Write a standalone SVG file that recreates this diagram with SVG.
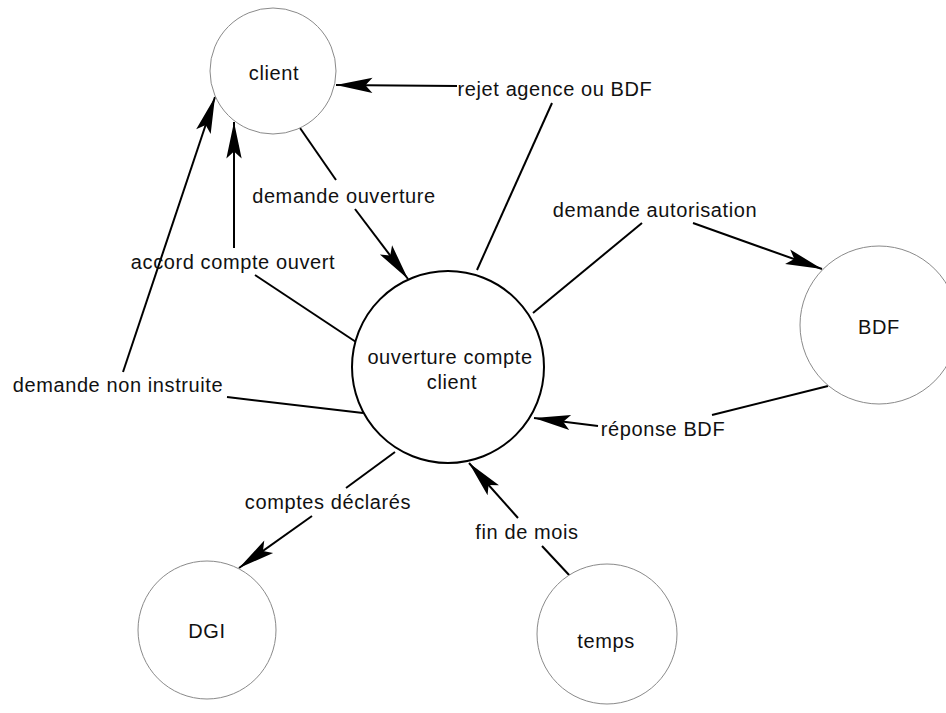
<svg xmlns="http://www.w3.org/2000/svg" width="946" height="713" viewBox="0 0 946 713">
  <style>
    .ext { fill: #ffffff; stroke: #8a8a8a; stroke-width: 1; }
    .proc { fill: #ffffff; stroke: #000000; stroke-width: 2; }
    .lbl { font-family: "Liberation Sans", Arial, sans-serif; font-size: 20px; letter-spacing: 0.6px; fill: #111111; text-anchor: middle; }
    .flow { fill: none; stroke: #000000; stroke-width: 2; }
  </style>
  <defs>
    <marker id="arrow" markerUnits="userSpaceOnUse" markerWidth="40" markerHeight="20" viewBox="-32 -8 34 16" refX="0" refY="0" orient="auto">
      <path d="M0,0 L-31,-6.5 L-25,0 L-31,6.5 Z" fill="#000000"/>
    </marker>
  </defs>
  <rect width="946" height="713" fill="#ffffff"/>

  <!-- data flows -->
  <g id="connectors">
    <!-- rejet agence ou BDF -->
    <path class="flow" d="M477,270 L552,103"/>
    <path class="flow" d="M457,86 L336,85" marker-end="url(#arrow)"/>
    <!-- demande ouverture -->
    <path class="flow" d="M300,128 L336,180"/>
    <path class="flow" d="M355,209 L408,279" marker-end="url(#arrow)"/>
    <!-- accord compte ouvert -->
    <path class="flow" d="M356,342 L255,275"/>
    <path class="flow" d="M234,248 L234,122" marker-end="url(#arrow)"/>
    <!-- demande non instruite -->
    <path class="flow" d="M363,413 L227,397"/>
    <path class="flow" d="M123,372 L215,97" marker-end="url(#arrow)"/>
    <!-- demande autorisation -->
    <path class="flow" d="M533,313 L642,223"/>
    <path class="flow" d="M693,223 L822,269" marker-end="url(#arrow)"/>
    <!-- réponse BDF -->
    <path class="flow" d="M828,386 L712,415"/>
    <path class="flow" d="M598,426 L534,418" marker-end="url(#arrow)"/>
    <!-- comptes déclarés -->
    <path class="flow" d="M395,452 L346,488"/>
    <path class="flow" d="M312,516 L239,568" marker-end="url(#arrow)"/>
    <!-- fin de mois -->
    <path class="flow" d="M570,576 L542,546"/>
    <path class="flow" d="M518,518 L469,463" marker-end="url(#arrow)"/>
  </g>

  <g id="flow-labels">
    <text class="lbl" x="555" y="96">rejet agence ou BDF</text>
    <text class="lbl" x="344" y="203">demande ouverture</text>
    <text class="lbl" x="233" y="269">accord compte ouvert</text>
    <text class="lbl" x="118" y="392">demande non instruite</text>
    <text class="lbl" x="655" y="217">demande autorisation</text>
    <text class="lbl" x="663" y="436">réponse BDF</text>
    <text class="lbl" x="328" y="509">comptes déclarés</text>
    <text class="lbl" x="527" y="539">fin de mois</text>
  </g>

  <g id="client">
    <circle class="ext" cx="273" cy="71" r="63"/>
    <text class="lbl" x="274" y="80">client</text>
  </g>

  <g id="ouverture-compte-client">
    <circle class="proc" cx="448" cy="367" r="96"/>
    <text class="lbl" x="450" y="364">ouverture compte</text>
    <text class="lbl" x="452" y="389">client</text>
  </g>

  <g id="bdf">
    <circle class="ext" cx="879" cy="325" r="79"/>
    <text class="lbl" x="879" y="334">BDF</text>
  </g>

  <g id="dgi">
    <circle class="ext" cx="207" cy="630" r="69"/>
    <text class="lbl" x="207" y="638">DGI</text>
  </g>

  <g id="temps">
    <circle class="ext" cx="607" cy="634" r="70"/>
    <text class="lbl" x="606" y="648">temps</text>
  </g>
</svg>
